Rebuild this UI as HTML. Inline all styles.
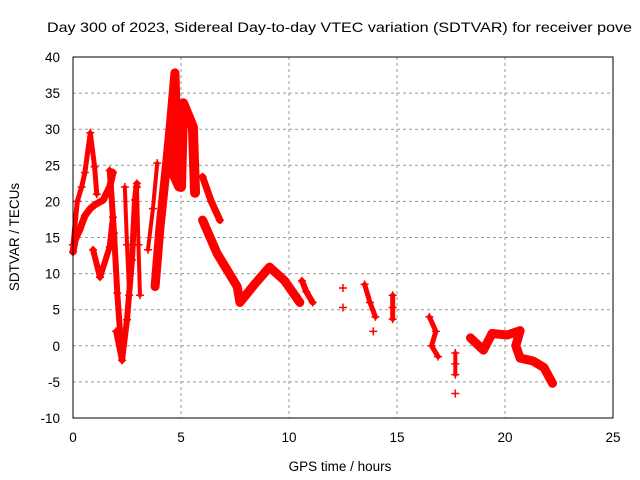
<!DOCTYPE html>
<html><head><meta charset="utf-8"><style>
body{margin:0;background:#fff;}
svg{display:block;font-family:"Liberation Sans",sans-serif;}
</style></head><body>
<svg id="chart" width="640" height="480" viewBox="0 0 640 480">
<rect width="640" height="480" fill="#fff"/>
<text x="47" y="32" font-size="14" textLength="585" lengthAdjust="spacingAndGlyphs">Day 300 of 2023, Sidereal Day-to-day VTEC variation (SDTVAR) for receiver pove</text>
<g id="grid"></g>
<g id="data"></g>
<rect x="73" y="57" width="540" height="361" fill="none" stroke="#000" stroke-width="1"/>
<g id="ticks"></g>
<text x="340" y="471" font-size="13.5" text-anchor="middle">GPS time / hours</text>
<text transform="translate(19,237) rotate(-90)" font-size="13.5" text-anchor="middle">SDTVAR / TECUs</text>
</svg>
<script>
const xTicks=[0,5,10,15,20,25];
const yTicks=[-10,-5,0,5,10,15,20,25,30,35,40];
// each segment: list of [hours, TECU]
const segA=[[0,13],[0.1,14.7],[0.3,16],[0.55,18],[0.8,19],[1.0,19.5],[1.4,20.2],[1.7,22],[1.85,24]];
const segB=[[0,14],[0.2,20],[0.4,22],[0.55,24],[0.8,29.5],[1.0,24.8],[1.1,21]];
const segC=[[0.93,13.3],[1.25,9.5],[1.7,13.7],[1.85,17.8],[1.7,24.3],[1.9,15.6],[2.05,7.3],[2.27,-2]];
const segD=[[2.0,2],[2.27,-2],[2.5,3.6],[2.73,11.9],[2.87,20.2],[2.96,22.5]];
const segE=[[2.4,22],[2.5,14],[2.6,7],[2.96,22],[3.03,14],[3.1,7]];
const segF=[[3.47,13.3],[3.7,19],[3.9,25.3]];
const segG=[[3.8,8.2],[4.03,16.5],[4.35,25.7],[4.5,30.3],[4.72,37.8],[4.8,30],[4.6,24],[4.9,22]];
const segH=[[5.0,22],[5.1,33.6],[5.55,30.3],[5.65,21.2]];
const segI=[[6.0,23.4],[6.4,20],[6.8,17.4]];
const segJ=[[6.0,17.4],[6.67,12.8],[7.6,8.2],[7.73,6],[8.4,8.5],[9.1,10.9],[9.8,9],[10.5,6]];
const segK=[[10.6,9],[10.8,7.5],[11.1,6]];
const segL=[[12.5,8]];
const segM=[[12.5,5.3]];
const segN=[[13.5,8.5],[13.75,6],[14.0,4]];
const segO=[[13.9,2]];
const segP=[[14.8,7],[14.8,5.3],[14.8,3.7]];
const segQ=[[16.5,4],[16.8,2],[16.6,0],[16.9,-1.5]];
const segR=[[17.7,-1],[17.7,-2.5],[17.7,-4]];
const segS=[[17.7,-6.6]];
const segT=[[18.4,1.1],[19.0,-0.6],[19.4,1.7],[20.1,1.5],[20.7,2.1],[20.5,0],[20.7,-1.7],[21.3,-2.1],[21.8,-3],[22.2,-5.2]];
const segments=[segA,segB,segC,segD,segE,segF,segG,segH,segI,segJ,segK,segL,segM,segN,segO,segP,segQ,segR,segS,segT];
const widths=[7,5,6,6,4,4,9,10,7,9,6,0,0,5,4,5,5,4,4,9];

const X=t=>73+t*21.6, Y=v=>57+(40-v)*7.22;
const NS="http://www.w3.org/2000/svg";
const grid=document.getElementById('grid'), ticks=document.getElementById('ticks'), data=document.getElementById('data');
function mk(tag,attrs,parent){const e=document.createElementNS(NS,tag);for(const k in attrs)e.setAttribute(k,attrs[k]);parent.appendChild(e);return e;}
xTicks.forEach(t=>{
  if(t>0&&t<25){const g=mk('line',{x1:X(t),x2:X(t),y1:57,y2:418,stroke:'#999','stroke-dasharray':'3,3'},grid);
  
  }
  const l=mk('text',{x:X(t),y:442,'font-size':'13.5','text-anchor':'middle'},ticks);l.textContent=t;
  
  
});
yTicks.forEach(v=>{
  if(v>-10&&v<40){const g=mk('line',{x1:73,x2:613,y1:Y(v),y2:Y(v),stroke:'#999','stroke-dasharray':'3,3'},grid);
  
  }
  const l=mk('text',{x:60,y:Y(v)+5,'font-size':'13.5','text-anchor':'end'},ticks);l.textContent=v;
  
  
});
segments.forEach((seg,i)=>{
  if(seg.length>1&&widths[i]>0){
    const p=mk('polyline',{points:seg.map(d=>X(d[0])+','+Y(d[1])).join(' '),fill:'none',stroke:'#f00','stroke-width':widths[i],'stroke-linejoin':'round','stroke-linecap':'round'},data);
    
    
  }
  seg.forEach(d=>{
    const x=X(d[0]),y=Y(d[1]);
    const m=mk('path',{d:`M${x-4},${y}h8M${x},${y-4}v8`,stroke:'#f00','stroke-width':1.5},data);
    
    
  });
});
</script>
</body></html>
